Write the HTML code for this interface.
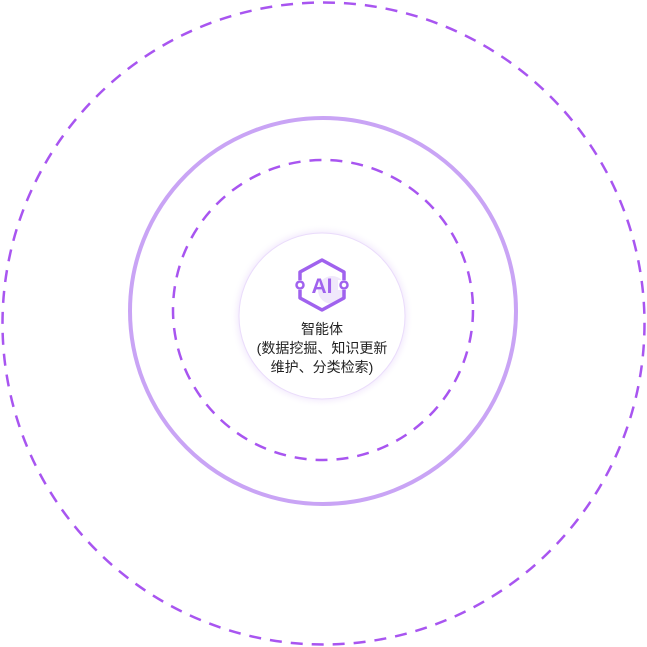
<!DOCTYPE html>
<html><head><meta charset="utf-8"><style>
html,body{margin:0;padding:0;background:#fff;width:647px;height:647px;overflow:hidden}
.t{position:absolute;left:222px;width:200px;text-align:center;font-family:"Liberation Sans","Noto Sans CJK SC",sans-serif;font-size:14px;color:#222;line-height:19px}
</style></head><body>
<svg width="647" height="647" style="position:absolute;left:0;top:0">
<defs>
<radialGradient id="g" cx="0.5" cy="0.5" r="0.5">
<stop offset="0.88" stop-color="#efe4fc"/>
<stop offset="1" stop-color="#fff" stop-opacity="0"/>
</radialGradient>
</defs>
<circle cx="323.5" cy="323.5" r="321" fill="none" stroke="#a855f0" stroke-width="2.5" stroke-dasharray="12 9"/>
<circle cx="323" cy="311" r="193" fill="none" stroke="#c9a4f5" stroke-width="4"/>
<circle cx="323" cy="310" r="150" fill="none" stroke="#a855f0" stroke-width="2.5" stroke-dasharray="12 9"/>
<circle cx="322" cy="316" r="92" fill="url(#g)"/>
<circle cx="322" cy="316" r="83" fill="#fff" stroke="#eadcfb" stroke-width="1"/>
<circle cx="332" cy="290" r="14" fill="#f0e8fb"/>
<polygon points="322,260 344,272 344,298 322,310 300,298 300,272" fill="none" stroke="#a062ee" stroke-width="3.5" stroke-linejoin="round"/>
<rect x="296" y="280" width="10" height="10" fill="#fff"/>
<rect x="338" y="280" width="10" height="10" fill="#fff"/>
<circle cx="300" cy="285" r="3.5" fill="#fff" stroke="#a062ee" stroke-width="2.5"/>
<circle cx="344" cy="285" r="3.5" fill="#fff" stroke="#a062ee" stroke-width="2.5"/>
<text x="322" y="293" text-anchor="middle" font-family="Liberation Sans,sans-serif" font-weight="bold" font-size="21" fill="#a062ee">AI</text>
</svg>
<div class="t" style="top:320px">智能体<br>(数据挖掘、知识更新<br>维护、分类检索)</div>
</body></html>
